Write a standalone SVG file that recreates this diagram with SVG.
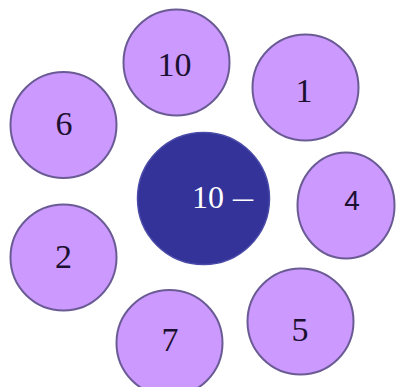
<svg xmlns="http://www.w3.org/2000/svg" width="396" height="387" viewBox="0 0 396 387">
<style>
.n{fill:#CC99FF;stroke:#6B5B95;stroke-width:2}
.c{fill:#333399;stroke:#4A4AA8;stroke-width:1.5}
.t{font-family:"Liberation Serif","Times New Roman",serif;font-size:34px;fill:#1C1030;text-anchor:middle}
.s{font-family:"Liberation Sans",Arial,sans-serif;font-size:28px;fill:#1C1030;text-anchor:middle}
.w{font-family:"Liberation Serif","Times New Roman",serif;font-size:32px;fill:#FFFFFF}
</style>
<rect width="396" height="387" fill="#FFFFFF"/>
<g id="connectors"></g>
<g id="center"><circle class="c" cx="203.5" cy="198.5" r="66"/><text class="w" x="192" y="208">10 <tspan x="233" textLength="20" lengthAdjust="spacingAndGlyphs">–</tspan></text></g>
<g id="n10"><circle class="n" cx="176.5" cy="62.5" r="53"/><text class="t" x="174.5" y="76">10</text></g>
<g id="n1"><circle class="n" cx="305.5" cy="87.5" r="53"/><text class="t" x="304" y="102">1</text></g>
<g id="n6"><circle class="n" cx="63.5" cy="125" r="53"/><text class="t" x="64" y="135">6</text></g>
<g id="n4"><ellipse class="n" cx="346" cy="205.5" rx="48.5" ry="53"/><text class="s" x="352" y="210">4</text></g>
<g id="n2"><circle class="n" cx="63.5" cy="257.5" r="53"/><text class="t" x="63.5" y="268">2</text></g>
<g id="n7"><circle class="n" cx="169.5" cy="343" r="53"/><text class="t" x="170" y="351">7</text></g>
<g id="n5"><circle class="n" cx="300.5" cy="321.5" r="53"/><text class="t" x="300" y="341">5</text></g>
</svg>
